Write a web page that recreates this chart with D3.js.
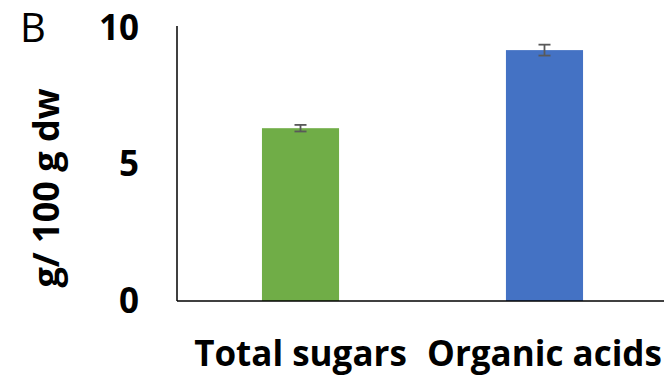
<!DOCTYPE html>
<html>
<head>
<meta charset="utf-8">
<script src="https://cdn.jsdelivr.net/npm/d3@7"></script>
<style>
  html, body { margin: 0; padding: 0; background: #fff; }
  svg { display: block; }
  text { font-family: "Open Sans", "Noto Sans", sans-serif; }
</style>
</head>
<body>
<svg id="chart" width="664" height="384"></svg>
<script>
// Composition per 100 g dry weight
const categories = ["Total sugars", "Organic acids"];
const values = [6.33, 9.19];
const errors = [0.12, 0.2];
const colors = ["#70AD47", "#4472C4"];
const yTicks = [0, 5, 10];

const svg = d3.select("#chart");
const margin = { left: 177, right: 0, top: 28, bottom: 83 };
const W = 664, H = 384;

const x = d3.scaleBand()
  .domain(categories)
  .range([margin.left + 2, W + 2])
  .paddingInner(0.684)
  .paddingOuter(0.34);

const y = d3.scaleLinear()
  .domain([0, 10])
  .range([H - margin.bottom, margin.top]);

// bars
svg.selectAll("rect.bar")
  .data(categories)
  .join("rect")
  .attr("class", "bar")
  .attr("x", d => x(d))
  .attr("width", x.bandwidth())
  .attr("y", (d, i) => y(values[i]))
  .attr("height", (d, i) => y(0) - y(values[i]))
  .attr("fill", (d, i) => colors[i]);

// error bars
const eb = svg.append("g").attr("stroke", "#595959").attr("stroke-width", 1.8);
categories.forEach((c, i) => {
  const cx = x(c) + x.bandwidth() / 2;
  const top = y(values[i] + errors[i]), bot = y(values[i] - errors[i]);
  eb.append("line").attr("x1", cx).attr("x2", cx).attr("y1", top).attr("y2", bot);
  eb.append("line").attr("x1", cx - 6).attr("x2", cx + 6).attr("y1", top).attr("y2", top);
  eb.append("line").attr("x1", cx - 6).attr("x2", cx + 6).attr("y1", bot).attr("y2", bot);
});

// y axis (line only, bold labels)
const yAxis = svg.append("g")
  .attr("transform", `translate(${margin.left},0)`)
  .call(d3.axisLeft(y).tickValues(yTicks).tickSize(0).tickPadding(38).tickFormat(d3.format("d")));
yAxis.select(".domain").attr("stroke", "#000").attr("stroke-width", 1.5).attr("d", `M0,${y(0)}V${y(10) - 2}`);
yAxis.selectAll("text")
  .attr("font-size", 35).attr("font-weight", "bold").attr("fill", "#000")
  .attr("font-family", "'Open Sans', sans-serif");

// x axis
const xAxis = svg.append("g")
  .attr("transform", `translate(0,${y(0)})`)
  .call(d3.axisBottom(x).tickSize(0).tickPadding(40));
xAxis.select(".domain").attr("stroke", "#000").attr("stroke-width", 1.5)
  .attr("d", `M${margin.left},0H${W}`);
xAxis.selectAll("text")
  .attr("font-size", 35).attr("font-weight", "bold").attr("fill", "#000")
  .attr("font-family", "'Open Sans', sans-serif")
  .attr("dx", function() {
    // keep the label inside the canvas
    const bb = this.getBBox();
    const over = bb.x + bb.width + 4 - W;
    return over > 0 ? -over : 0;
  });

// y axis title
svg.append("text")
  .attr("transform", `translate(59,188) rotate(-90)`)
  .attr("text-anchor", "middle")
  .attr("font-size", 36).attr("font-weight", "bold")
  .text("g/ 100 g dw");

// panel letter
svg.append("text")
  .attr("x", 20).attr("y", 42)
  .attr("font-size", 40)
  .attr("font-family", "'Open Sans', sans-serif")
  .text("B");
</script>
</body>
</html>
